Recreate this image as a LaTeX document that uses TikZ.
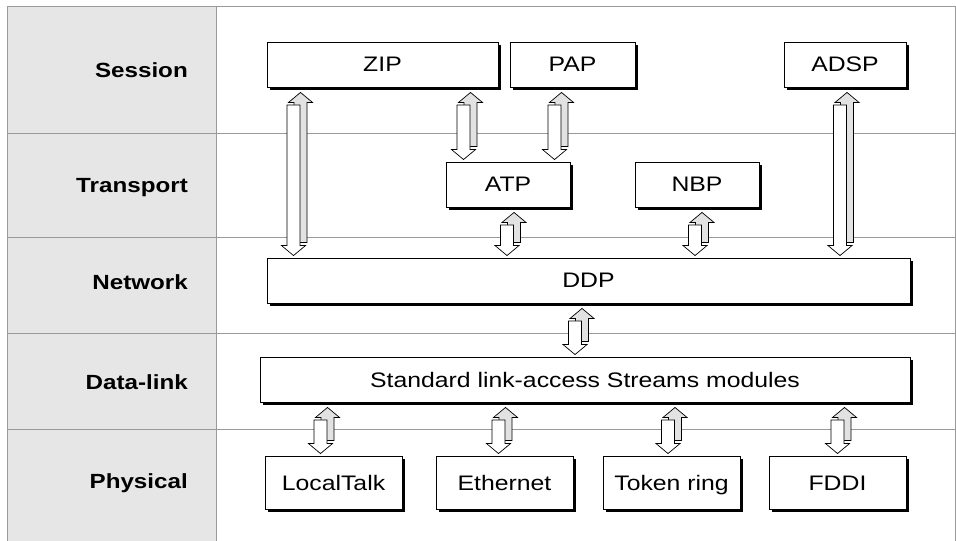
\documentclass[tikz,border=0pt]{standalone}
\usepackage{fontspec}
\setmainfont[FakeStretch=1.18]{Liberation Sans}
\usetikzlibrary{shadows,calc}
\definecolor{colgrey}{HTML}{E6E6E6}
\definecolor{linegrey}{HTML}{9A9A9A}
\definecolor{arrgrey}{HTML}{E2E2E2}
\tikzset{
  layerbox/.style={draw=black, line width=0.9bp, fill=white, inner sep=0pt,
    minimum height=45bp, text height=15bp, text depth=0pt,
    font=\fontsize{21bp}{24bp}\selectfont,
    drop shadow={shadow xshift=3bp, shadow yshift=-3bp, fill=black, opacity=1}},
  physbox/.style={layerbox, minimum height=53bp, minimum width=137bp},
  layerlabel/.style={anchor=base east, inner sep=0pt,
    font=\fontsize{20.5bp}{24bp}\selectfont\bfseries},
  sepline/.style={draw=linegrey, line width=0.9bp},
  arrline/.style={draw=black, line width=0.7bp, line join=miter},
}
% #1 upper node, #2 lower node, #3 x of the down arrow's centre (bp)
\newcommand\dblarr[3]{%
  \path[arrline, fill=arrgrey] let \p1=(#1.south), \p2=(#2.north) in
    (#3bp+0.5bp,\y2+15bp) -- (#3bp+0.5bp,\y1-15bp) -- (#3bp-5bp,\y1-15bp)
    -- (#3bp+7bp,\y1-5bp) -- (#3bp+19bp,\y1-15bp) -- (#3bp+13.5bp,\y1-15bp)
    -- (#3bp+13.5bp,\y2+15bp) -- cycle;
  \path[arrline, fill=white] let \p1=(#1.south), \p2=(#2.north) in
    (#3bp-6.5bp,\y1-17.5bp) -- (#3bp-6.5bp,\y2+12bp) -- (#3bp-12bp,\y2+12bp)
    -- (#3bp,\y2+2bp) -- (#3bp+12bp,\y2+12bp) -- (#3bp+6.5bp,\y2+12bp)
    -- (#3bp+6.5bp,\y1-17.5bp) -- cycle;
}
\begin{document}
\begin{tikzpicture}[x=1bp,y=-1bp]
\useasboundingbox (0,0) rectangle (956,541);
% background grid
\fill[colgrey] (7,6) rectangle (216,541);
\draw[sepline] (7,541) -- (7,6) -- (955,6) -- (955,541);
\draw[sepline] (216,6) -- (216,541);
\foreach \yy in {133,237,333,429} \draw[sepline] (7,\yy) -- (955,\yy);
% layer labels
\node[layerlabel] (lsession)   at (188,77.3)  {Session};
\node[layerlabel] (ltransport) at (188,192.5) {Transport};
\node[layerlabel] (lnetwork)   at (188,290)   {Network};
\node[layerlabel] (ldatalink)  at (188,389)   {Data-link};
\node[layerlabel] (lphysical)  at (188,488)   {Physical};
% boxes
\node[layerbox, minimum width=231bp] (zip)  at (382.5,64.5) {ZIP};
\node[layerbox, minimum width=125bp] (pap)  at (572.5,64.5) {PAP};
\node[layerbox, minimum width=122bp] (adsp) at (845,64.5)   {ADSP};
\node[layerbox, minimum width=124bp] (atp)  at (508,184.5)  {ATP};
\node[layerbox, minimum width=124bp] (nbp)  at (697,184.5)  {NBP};
\node[layerbox, minimum width=643bp] (ddp)  at (588.5,280.5) {DDP};
\node[layerbox, minimum width=650bp] (std)  at (585,379.5)  {Standard link-access Streams modules};
\node[physbox] (localtalk) at (333.5,482.5) {LocalTalk};
\node[physbox] (ethernet)  at (504.5,482.5) {Ethernet};
\node[physbox] (tokenring) at (671.5,482.5) {Token ring};
\node[physbox] (fddi)      at (837.5,482.5) {FDDI};
% connectors
\dblarr{zip}{ddp}{293.5}
\dblarr{zip}{atp}{463.5}
\dblarr{pap}{atp}{554.5}
\dblarr{atp}{ddp}{507}
\dblarr{nbp}{ddp}{695}
\dblarr{adsp}{ddp}{840}
\dblarr{ddp}{std}{575}
\dblarr{std}{localtalk}{320.5}
\dblarr{std}{ethernet}{498.5}
\dblarr{std}{tokenring}{668}
\dblarr{std}{fddi}{837.5}
\end{tikzpicture}
\end{document}
